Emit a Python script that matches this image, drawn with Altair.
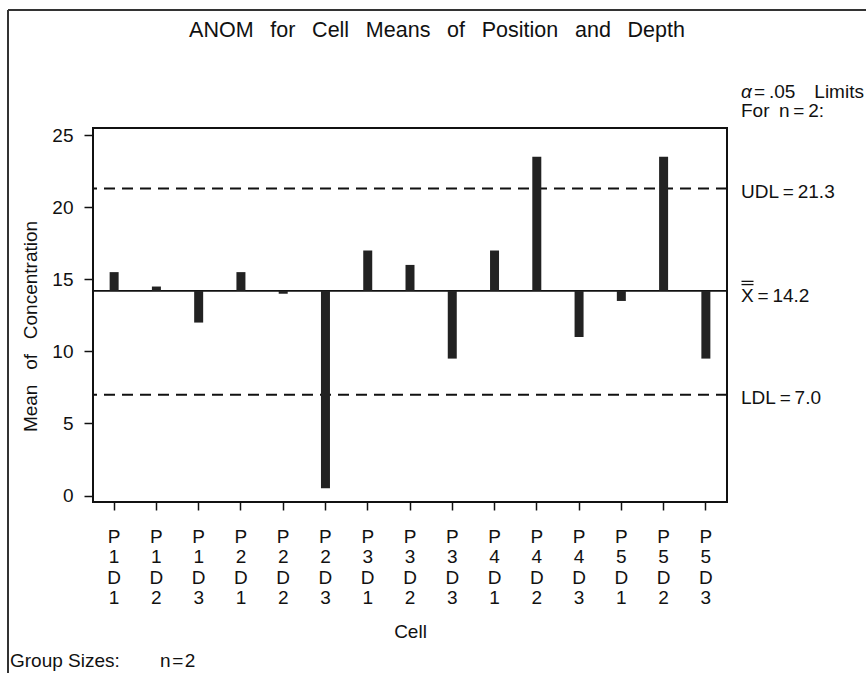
import altair as alt
import pandas as pd

# Cell means of concentration for each Position x Depth cell
cells = ["P1D1", "P1D2", "P1D3", "P2D1", "P2D2", "P2D3", "P3D1", "P3D2",
         "P3D3", "P4D1", "P4D2", "P4D3", "P5D1", "P5D2", "P5D3"]
means = [15.5, 14.5, 12.0, 15.5, 14.0, 0.5, 17.0, 16.0,
         9.5, 17.0, 23.5, 11.0, 13.5, 23.5, 9.5]

# Decision limits (alpha = .05, n = 2) and the overall mean
limit_names = ["UDL", "X", "LDL"]
limit_values = [21.3, 14.2, 7.0]
center = limit_values[1]

y_ticks = [0, 5, 10, 15, 20, 25]

FONT = "Liberation Sans"
INK = "#111111"
BAR = "#222222"

W, H = 634, 374

bars_df = pd.DataFrame({"cell": cells, "mean": means, "center": center})
limits_df = pd.DataFrame({"name": limit_names, "value": limit_values})
limits_df["label"] = [f"{n}\u2009=\u2009{v:.1f}" for n, v in zip(limit_names, limit_values)]

y_scale = alt.Scale(domain=[-0.45, 25.5], nice=False, zero=False)

x_enc = alt.X(
    "cell:N", sort=cells,
    scale=alt.Scale(paddingInner=0, paddingOuter=0),
    axis=alt.Axis(
        title="Cell", labelExpr="split(datum.label, '')", labelAngle=0,
        labelFont=FONT, labelFontSize=19, labelLineHeight=20.5, labelColor=INK,
        labelPadding=17, labelBaseline="top", labelAlign="center",
        tickSize=8, tickWidth=1.5, tickColor=INK, domain=False, grid=False,
        titleFont=FONT, titleFontSize=19, titleFontWeight="normal", titleColor=INK,
        titleY=135, titleBaseline="alphabetic",
    ),
)

y_enc = alt.Y(
    "mean:Q", scale=y_scale,
    axis=alt.Axis(
        values=y_ticks, title="Mean \u2002of \u2002Concentration",
        labelFont=FONT, labelFontSize=19, labelColor=INK, labelPadding=11,
        tickSize=9, tickWidth=1.5, tickColor=INK, domain=False, grid=False,
        titleFont=FONT, titleFontSize=19, titleFontWeight="normal", titleColor=INK,
        titleAngle=270, titleX=-57, titleY=198, titleBaseline="alphabetic",
    ),
)

bars = alt.Chart(bars_df).mark_bar(size=9, color=BAR).encode(
    x=x_enc, y=y_enc, y2="center:Q"
)

is_center = alt.datum.value == center

center_rule = alt.Chart(limits_df).transform_filter(is_center).mark_rule(
    color=INK, strokeWidth=1.8
).encode(y=alt.Y("value:Q", scale=y_scale))

limit_rules = alt.Chart(limits_df).transform_filter(~is_center).mark_rule(
    color=INK, strokeWidth=2, strokeDash=[11, 7]
).encode(y=alt.Y("value:Q", scale=y_scale))

limit_labels = alt.Chart(limits_df).transform_filter(~is_center).mark_text(
    font=FONT, fontSize=19, color=INK, align="left", baseline="middle", dy=3
).encode(y=alt.Y("value:Q", scale=y_scale), x=alt.value(648), text="label:N")

center_label = alt.Chart(limits_df).transform_filter(is_center).mark_text(
    font=FONT, fontSize=19, color=INK, align="left", baseline="middle", dy=5
).encode(y=alt.Y("value:Q", scale=y_scale), x=alt.value(648), text="label:N")

# double bar over the X of the grand-mean label
xbar_rules = [
    alt.Chart(limits_df).transform_filter(is_center).mark_rule(
        color=INK, strokeWidth=1.3, yOffset=off
    ).encode(y=alt.Y("value:Q", scale=y_scale), x=alt.value(648.5), x2=alt.value(660.5))
    for off in (-9.5, -6.3)
]


def note(text, x, y, size=19, align="left", **kw):
    return alt.Chart(alt.Data(values=[{}])).mark_text(
        text=text, font=FONT, fontSize=size, color=INK, align=align,
        baseline="alphabetic", **kw
    ).encode(x=alt.value(x), y=alt.value(y))


title = note("ANOM \u2002for \u2002Cell \u2002Means \u2002of \u2002Position \u2002and \u2002Depth",
             344, -91, size=21.5, align="center")
alpha = note("\u03b1", 648, -30, fontStyle="italic")
alpha_rest = note("=\u2009.05\u2002\u2002Limits", 661, -30)
for_n = note("For\u2002n\u2009=\u20092:", 648, -11)
group_sizes = note("Group Sizes:", -83, 539)
group_n = note("n\u200a=\u200a2", 67, 539)

# outer page border (top and left edges)
border_top = alt.Chart(alt.Data(values=[{}])).mark_rule(color="#333333", strokeWidth=2).encode(
    x=alt.value(-85), x2=alt.value(780), y=alt.value(-118)
)
border_left = alt.Chart(alt.Data(values=[{}])).mark_rule(color="#333333", strokeWidth=2).encode(
    x=alt.value(-85), y=alt.value(-118), y2=alt.value(560)
)

chart = alt.layer(
    border_top, border_left, limit_rules, center_rule, bars,
    limit_labels, center_label, *xbar_rules,
    title, alpha, alpha_rest, for_n, group_sizes, group_n,
).properties(
    width=W, height=H,
    autosize=alt.AutoSizeParams(type="none"),
    padding={"left": 93, "top": 128, "right": 139, "bottom": 171},
    background="white",
).configure_view(stroke=INK, strokeWidth=2)

chart.save("out.html", embed_options={"renderer": "svg", "actions": False})
